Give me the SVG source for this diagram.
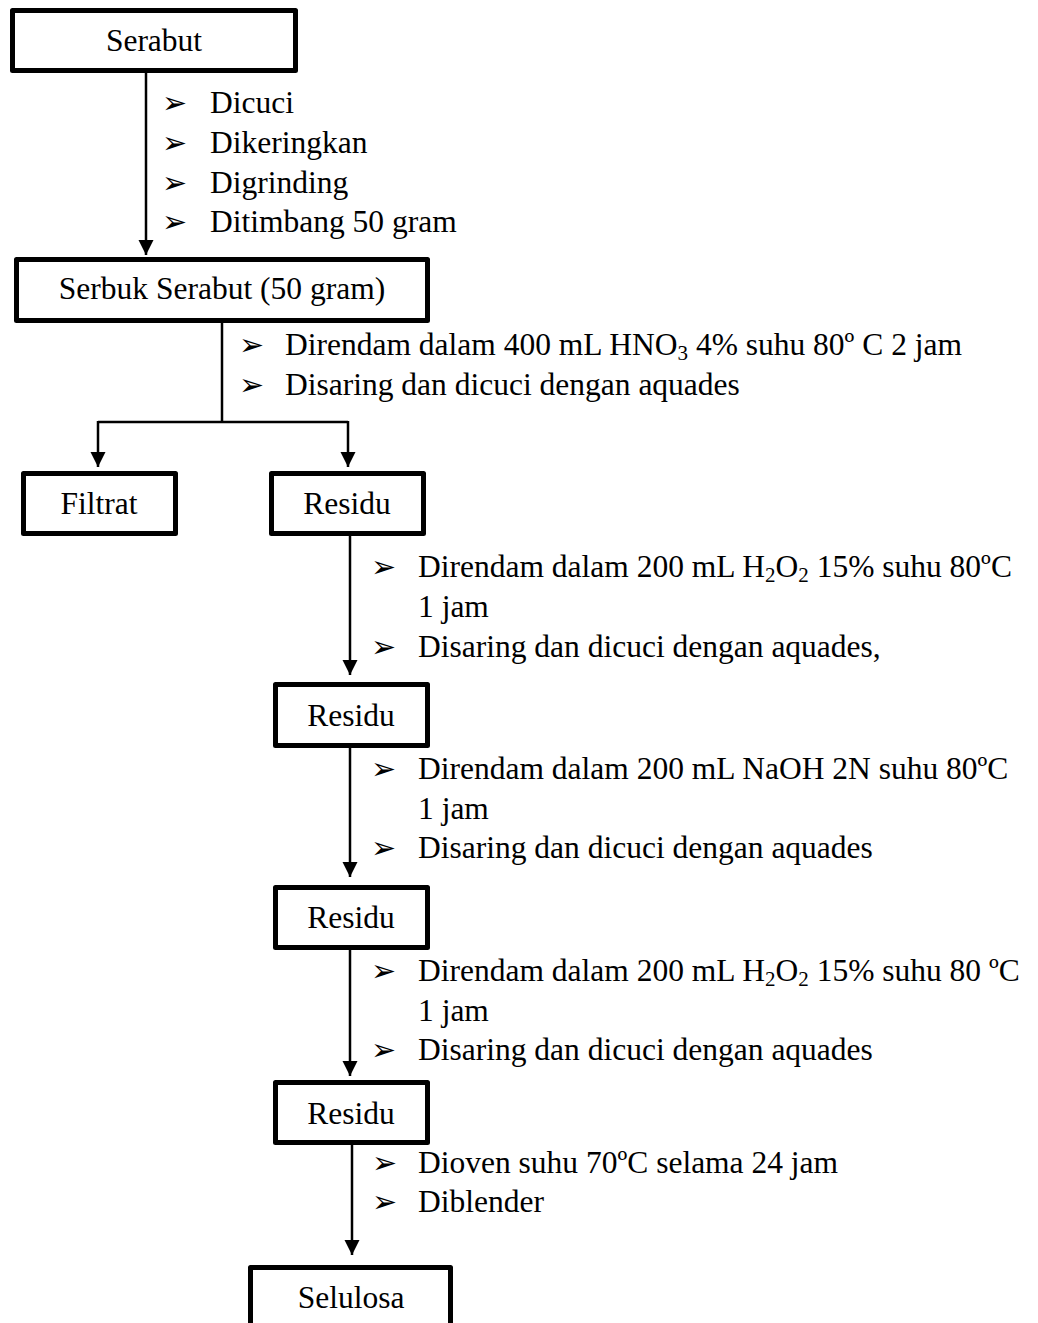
<svg xmlns="http://www.w3.org/2000/svg" width="1038" height="1323" viewBox="0 0 1038 1323">
<style>
  .box { fill: #fff; stroke: #000; stroke-width: 5; stroke-linejoin: round; }
  .lbl { font-family: "Liberation Serif", "Times New Roman", serif; font-size: 31.5px; fill: #000; }
  .mid { text-anchor: middle; }
  .bul { font-family: "DejaVu Sans", sans-serif; font-size: 30px; fill: #000; }
  .sub { font-size: 21px; }
  .con { fill: none; stroke: #000; stroke-width: 2.5; }
</style>
<defs>
  <marker id="ah" markerUnits="userSpaceOnUse" markerWidth="17" markerHeight="16" refX="15" refY="8" orient="auto">
    <path d="M0,0.5 L15,8 L0,15.5 Z" fill="#000"/>
  </marker>
</defs>

<g id="connectors">
  <line class="con" x1="146" y1="73" x2="146" y2="255" marker-end="url(#ah)"/>
  <polyline class="con" points="222,323 222,422"/>
  <polyline class="con" points="98,422 348,422"/>
  <line class="con" x1="98" y1="421" x2="98" y2="467" marker-end="url(#ah)"/>
  <line class="con" x1="348" y1="421" x2="348" y2="467" marker-end="url(#ah)"/>
  <line class="con" x1="350" y1="536" x2="350" y2="675" marker-end="url(#ah)"/>
  <line class="con" x1="350" y1="748" x2="350" y2="877" marker-end="url(#ah)"/>
  <line class="con" x1="350" y1="950" x2="350" y2="1076" marker-end="url(#ah)"/>
  <line class="con" x1="352" y1="1145" x2="352" y2="1255" marker-end="url(#ah)"/>
</g>

<g id="node-serabut">
  <rect class="box" x="12.5" y="10.5" width="283" height="60"/>
  <text class="lbl mid" x="154" y="51">Serabut</text>
</g>
<g id="node-serbuk">
  <rect class="box" x="16.5" y="259.5" width="411" height="61"/>
  <text class="lbl mid" x="222" y="299">Serbuk Serabut (50 gram)</text>
</g>
<g id="node-filtrat">
  <rect class="box" x="23.5" y="473.5" width="152" height="60"/>
  <text class="lbl mid" x="99" y="514">Filtrat</text>
</g>
<g id="node-residu1">
  <rect class="box" x="271.5" y="473.5" width="152" height="60"/>
  <text class="lbl mid" x="347" y="514">Residu</text>
</g>
<g id="node-residu2">
  <rect class="box" x="275.5" y="684.5" width="152" height="61"/>
  <text class="lbl mid" x="351" y="726">Residu</text>
</g>
<g id="node-residu3">
  <rect class="box" x="275.5" y="887.5" width="152" height="60"/>
  <text class="lbl mid" x="351" y="928">Residu</text>
</g>
<g id="node-residu4">
  <rect class="box" x="275.5" y="1082.5" width="152" height="60"/>
  <text class="lbl mid" x="351" y="1124">Residu</text>
</g>
<g id="node-selulosa">
  <rect class="box" x="250.5" y="1267.5" width="200" height="80"/>
  <text class="lbl mid" x="351" y="1308">Selulosa</text>
</g>

<g id="steps-1">
  <text class="bul" x="162" y="113">➢</text>
  <text class="bul" x="162" y="153">➢</text>
  <text class="bul" x="162" y="193">➢</text>
  <text class="bul" x="162" y="232">➢</text>
  <text class="lbl" x="210" y="113">Dicuci</text>
  <text class="lbl" x="210" y="153">Dikeringkan</text>
  <text class="lbl" x="210" y="193">Digrinding</text>
  <text class="lbl" x="210" y="232">Ditimbang 50 gram</text>
</g>

<g id="steps-2">
  <text class="bul" x="239" y="355">➢</text>
  <text class="bul" x="239" y="395">➢</text>
  <text class="lbl" x="285" y="355">Direndam dalam 400 mL HNO<tspan class="sub" dy="5">3</tspan><tspan dy="-5"> 4% suhu 80º C 2 jam</tspan></text>
  <text class="lbl" x="285" y="395">Disaring dan dicuci dengan aquades</text>
</g>

<g id="steps-3">
  <text class="bul" x="371" y="577">➢</text>
  <text class="bul" x="371" y="657">➢</text>
  <text class="lbl" x="418" y="577">Direndam dalam 200 mL H<tspan class="sub" dy="5">2</tspan><tspan dy="-5">O</tspan><tspan class="sub" dy="5">2</tspan><tspan dy="-5"> 15% suhu 80ºC</tspan></text>
  <text class="lbl" x="418" y="617">1 jam</text>
  <text class="lbl" x="418" y="657">Disaring dan dicuci dengan aquades,</text>
</g>

<g id="steps-4">
  <text class="bul" x="371" y="779">➢</text>
  <text class="bul" x="371" y="858">➢</text>
  <text class="lbl" x="418" y="779">Direndam dalam 200 mL NaOH 2N suhu 80ºC</text>
  <text class="lbl" x="418" y="819">1 jam</text>
  <text class="lbl" x="418" y="858">Disaring dan dicuci dengan aquades</text>
</g>

<g id="steps-5">
  <text class="bul" x="371" y="981">➢</text>
  <text class="bul" x="371" y="1060">➢</text>
  <text class="lbl" x="418" y="981">Direndam dalam 200 mL H<tspan class="sub" dy="5">2</tspan><tspan dy="-5">O</tspan><tspan class="sub" dy="5">2</tspan><tspan dy="-5"> 15% suhu 80 ºC</tspan></text>
  <text class="lbl" x="418" y="1021">1 jam</text>
  <text class="lbl" x="418" y="1060">Disaring dan dicuci dengan aquades</text>
</g>

<g id="steps-6">
  <text class="bul" x="372" y="1173">➢</text>
  <text class="bul" x="372" y="1212">➢</text>
  <text class="lbl" x="418" y="1173">Dioven suhu 70ºC selama 24 jam</text>
  <text class="lbl" x="418" y="1212">Diblender</text>
</g>
</svg>
